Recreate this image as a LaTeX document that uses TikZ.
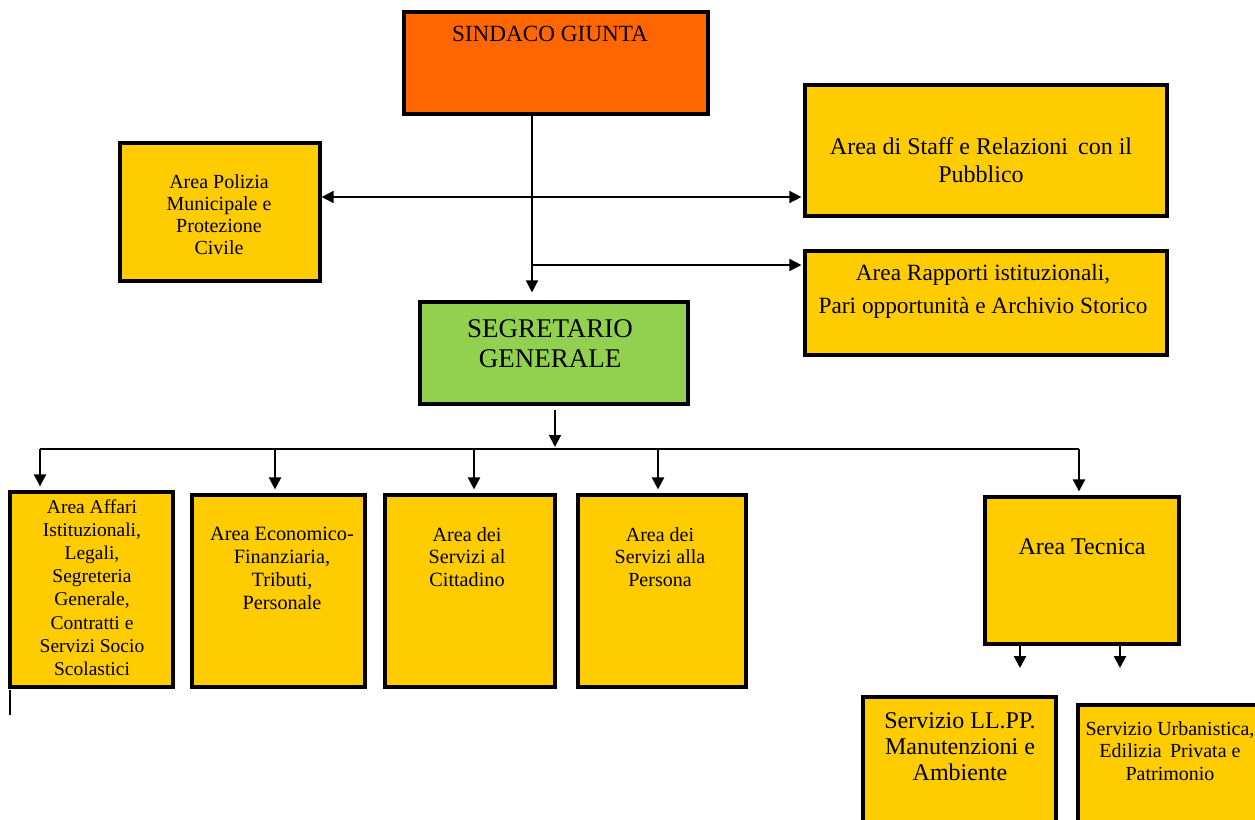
\documentclass[tikz,border=0pt]{standalone}
\usepackage{fontspec}
\setmainfont{Liberation Serif}
\usetikzlibrary{arrows.meta}
\definecolor{orangebox}{HTML}{FF6600}
\definecolor{goldbox}{HTML}{FFCC00}
\definecolor{greenbox}{HTML}{92D050}
\tikzset{
  box/.style={draw=black, line width=3.2pt, fill=goldbox, inner sep=0pt},
  txt/.style={align=center, inner sep=0pt, anchor=base, text=black},
  conn/.style={line width=1.6pt, draw=black},
  busline/.style={line width=2.4pt, draw=black},
  tip/.style={-{Triangle[length=12pt,width=12pt]}},
  tips/.style={{Triangle[length=12pt,width=12pt]}-{Triangle[length=12pt,width=12pt]}},
}
\newcommand{\fs}[2]{\fontsize{#1}{#2}\selectfont}
\begin{document}
\begin{tikzpicture}[x=1pt,y=-1pt]
\useasboundingbox (0,0) rectangle (1255,819);
% boxes
\node[box, fill=orangebox, minimum width=304pt, minimum height=102pt] (sind) at (556,63) {};
\node[box, minimum width=200pt, minimum height=138pt] (pol) at (220,212) {};
\node[box, minimum width=362pt, minimum height=131pt] (staff) at (986,150.5) {};
\node[box, minimum width=362pt, minimum height=104pt] (rap) at (986,303) {};
\node[box, fill=greenbox, minimum width=268pt, minimum height=102pt] (seg) at (554,353) {};
\node[box, minimum width=163pt, minimum height=195pt] (aff) at (91.5,589.5) {};
\node[box, minimum width=173pt, minimum height=192pt] (eco) at (278.5,591) {};
\node[box, minimum width=170pt, minimum height=192pt] (cit) at (470,591) {};
\node[box, minimum width=168pt, minimum height=192pt] (per) at (662,591) {};
\node[box, minimum width=194pt, minimum height=147pt] (tec) at (1082,570.5) {};
\node[box, minimum width=193pt, minimum height=133pt] (llpp) at (959.5,763.5) {};
\node[box, minimum width=192pt, minimum height=125pt] (urb) at (1174,767.5) {};
% texts (anchor base = baseline of last line)
\node[txt, font=\fs{23.2}{27}] (sindt) at (550,41) {SINDACO GIUNTA};
\node[txt, font=\fs{20}{22}] (polt) at (219,254) {Area Polizia\\Municipale e\\Protezione\\Civile};
\node[txt, font=\fs{24}{28}] (stafft) at (981,182) {Area di Staff e Relazioni\, con il\\Pubblico};
\node[txt, font=\fs{23.3}{33}] (rapt) at (983,313) {Area Rapporti istituzionali,\\Pari opportunità e Archivio Storico};
\node[txt, font=\fs{27}{30}] (segt) at (550,367) {SEGRETARIO\\GENERALE};
\node[txt, font=\fs{19.5}{23.2}] (afft) at (92,675.4) {Area Affari\\Istituzionali,\\Legali,\\Segreteria\\Generale,\\Contratti e\\Servizi Socio\\Scolastici};
\node[txt, font=\fs{20.3}{23}] (ecot) at (282,609) {Area Economico-\\Finanziaria,\\Tributi,\\Personale};
\node[txt, font=\fs{20.2}{22.7}] (citt) at (467,586.4) {Area dei\\Servizi al\\Cittadino};
\node[txt, font=\fs{20}{22.7}] (pert) at (660,586.4) {Area dei\\Servizi alla\\Persona};
\node[txt, font=\fs{24}{28}] (tect) at (1082,554) {Area Tecnica};
\node[txt, font=\fs{24}{26}] (llppt) at (960,780) {Servizio LL.PP.\\Manutenzioni e\\Ambiente};
\node[txt, font=\fs{20}{22.5}] (urbt) at (1170,780) {Servizio Urbanistica,\\Edilizia\, Privata e\\Patrimonio};
% junction coordinates
\coordinate (j1) at (532,197);
\coordinate (j2) at (532,265);
\coordinate (s1) at (555,410);
\coordinate (s2) at (555,447);
\coordinate (bl) at (40,449);
\coordinate (br) at (1079,449);
\coordinate (b2) at (275,449);
\coordinate (b3) at (474,449);
\coordinate (b4) at (658,449);
\coordinate (t1) at (1020,668);
\coordinate (t2) at (1120,668);
\coordinate (cur1) at (10,690);
\coordinate (cur2) at (10,715);
% connectors
\draw[conn, tip] (sind.south -| j1) -- ([yshift=8pt]seg.north -| j1);
\draw[conn, tips] (pol.east |- j1) -- ([xshift=-2pt]staff.west |- j1);
\draw[conn, tip] (j2) -- ([xshift=-2pt]rap.west |- j2);
\draw[conn, tip] (s1) -- (s2);
\draw[busline] (bl) -- (br);
\draw[busline, tip] (bl) -- ([yshift=4pt]aff.north -| bl);
\draw[busline, tip] (b2) -- ([yshift=4pt]eco.north -| b2);
\draw[busline, tip] (b3) -- ([yshift=4pt]cit.north -| b3);
\draw[busline, tip] (b4) -- ([yshift=4pt]per.north -| b4);
\draw[busline, tip] (br) -- ([yshift=4pt]tec.north -| br);
\draw[busline, tip] (tec.south -| t1) -- (t1);
\draw[busline, tip] (tec.south -| t2) -- (t2);
\draw[line width=2pt] (cur1) -- (cur2);
\end{tikzpicture}
\end{document}
